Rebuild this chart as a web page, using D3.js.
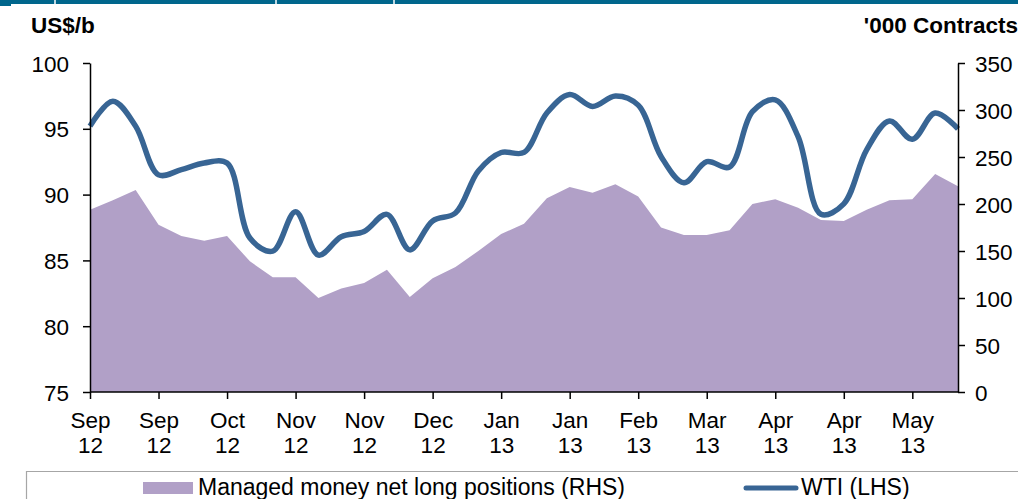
<!DOCTYPE html>
<html>
<head>
<meta charset="utf-8">
<script src="https://cdn.jsdelivr.net/npm/d3@7"></script>
<style>
  html, body { margin: 0; padding: 0; background: #fff; }
  svg { display: block; font-family: "Liberation Sans", Arial, sans-serif; }
</style>
</head>
<body>
<div id="chart"></div>
<script>
// weekly observations, one label every third week
const tickLabels = [
  ["Sep", "12"], ["Sep", "12"], ["Oct", "12"], ["Nov", "12"], ["Nov", "12"], ["Dec", "12"],
  ["Jan", "13"], ["Jan", "13"], ["Feb", "13"], ["Mar", "13"], ["Apr", "13"], ["Apr", "13"], ["May", "13"]
];

// managed money net long positions, '000 contracts (RHS)
const netLong = [
  194, 204, 215, 178, 166, 161, 166, 139, 122, 122,
  100, 110, 116, 130, 101, 121, 133, 150, 168, 179,
  206, 218, 212, 221, 208, 175, 167, 167, 172, 200,
  205, 196, 183, 182, 194, 204, 205, 232, 219
];

// WTI, US$/b (LHS)
const wti = [
  95.2, 97.1, 95.2, 91.5, 91.9, 92.4, 92.4, 86.7, 85.7, 88.7,
  85.4, 86.8, 87.2, 88.5, 85.8, 88.0, 88.6, 91.8, 93.2, 93.2,
  96.2, 97.6, 96.7, 97.5, 96.8, 92.9, 90.9, 92.5, 92.1, 96.3,
  97.2, 94.4, 88.5, 89.3, 93.4, 95.6, 94.2, 96.2, 95.0
];

const leftTicks = [75, 80, 85, 90, 95, 100];
const rightTicks = [0, 50, 100, 150, 200, 250, 300, 350];

const W = 1018, H = 499;
const plot = { left: 90, right: 958, top: 63, bottom: 392 };
const fs = "22.5px";

const svg = d3.select("#chart").append("svg")
  .attr("width", W).attr("height", H).attr("viewBox", `0 0 ${W} ${H}`);

// header strip cut off at the top
svg.append("rect").attr("x", 0).attr("y", 0).attr("width", W).attr("height", 4).attr("fill", "#00668c");
svg.append("rect").attr("x", 0).attr("y", 0).attr("width", 11).attr("height", 6).attr("fill", "#00668c");
[55, 276, 394].forEach(x => {
  svg.append("line").attr("x1", x).attr("x2", x).attr("y1", 0).attr("y2", 4)
    .attr("stroke", "#fff").attr("stroke-width", 1.5);
});

const idx = d3.range(netLong.length);
const x = d3.scalePoint().domain(idx).range([plot.left, plot.right]);
const yL = d3.scaleLinear().domain([75, 100]).range([plot.bottom, plot.top]);
const yR = d3.scaleLinear().domain([0, 350]).range([plot.bottom, plot.top]);

// area (RHS)
svg.append("path")
  .datum(netLong)
  .attr("fill", "#b1a0c7")
  .attr("d", d3.area().x((d, i) => x(i)).y0(yR(0)).y1(d => yR(d)));

// WTI line (LHS)
svg.append("path")
  .datum(wti)
  .attr("fill", "none")
  .attr("stroke", "#386594")
  .attr("stroke-width", 5.5)
  .attr("stroke-linejoin", "round")
  .attr("d", d3.line().x((d, i) => x(i)).y(d => yL(d)).curve(d3.curveCatmullRom.alpha(0.5)));

const styleAxis = g => {
  g.select(".domain").attr("stroke", "#000").attr("stroke-width", 1.5);
  g.selectAll(".tick line").attr("stroke", "#000").attr("stroke-width", 1.5);
  g.selectAll(".tick text").attr("fill", "#000").style("font-size", fs)
    .style("font-family", "'Liberation Sans', Arial, sans-serif");
};

svg.append("g")
  .attr("transform", `translate(${plot.left},0)`)
  .call(d3.axisLeft(yL).tickValues(leftTicks).tickSize(7).tickSizeOuter(0).tickPadding(14))
  .call(styleAxis)
  .call(g => g.selectAll(".tick text").attr("dy", "0.36em"));

svg.append("g")
  .attr("transform", `translate(${plot.right},0)`)
  .call(d3.axisRight(yR).tickValues(rightTicks).tickSize(7).tickSizeOuter(0).tickPadding(10))
  .call(styleAxis)
  .call(g => g.selectAll(".tick text").attr("dy", "0.36em"));

const tickIdx = idx.filter(i => i % 3 === 0);
const gx = svg.append("g")
  .attr("transform", `translate(0,${plot.bottom})`)
  .call(d3.axisBottom(x).tickValues(tickIdx).tickSize(7).tickSizeOuter(0).tickFormat(""));
gx.select(".domain").attr("d", `M${plot.left},0H${plot.right}`);
styleAxis(gx);

gx.selectAll(".tick").each(function(d, k) {
  const t = d3.select(this).select("text").text(null).attr("y", 0).attr("dy", null);
  tickLabels[k].forEach((s, j) => {
    t.append("tspan").attr("x", 0).attr("y", 36 + j * 25).text(s);
  });
});

// axis titles
svg.append("text").attr("x", 31).attr("y", 33)
  .style("font-size", fs).style("font-weight", "bold").text("US$/b");
svg.append("text").attr("x", 1018).attr("y", 33).attr("text-anchor", "end")
  .style("font-size", fs).style("font-weight", "bold").text("'000 Contracts");

// legend
svg.append("path").attr("d", `M26.5,${H}V471.5H${W}`)
  .attr("fill", "none").attr("stroke", "#a6a6a6").attr("stroke-width", 1.2);
svg.append("rect").attr("x", 143).attr("y", 482).attr("width", 50).attr("height", 12).attr("fill", "#b1a0c7");
svg.append("text").attr("x", 198).attr("y", 495).style("font-size", "23px")
  .text("Managed money net long positions (RHS)");
svg.append("line").attr("x1", 746).attr("x2", 796).attr("y1", 488).attr("y2", 488)
  .attr("stroke", "#386594").attr("stroke-width", 5).attr("stroke-linecap", "round");
svg.append("text").attr("x", 801).attr("y", 495).style("font-size", "23px").text("WTI (LHS)");
</script>
</body>
</html>
